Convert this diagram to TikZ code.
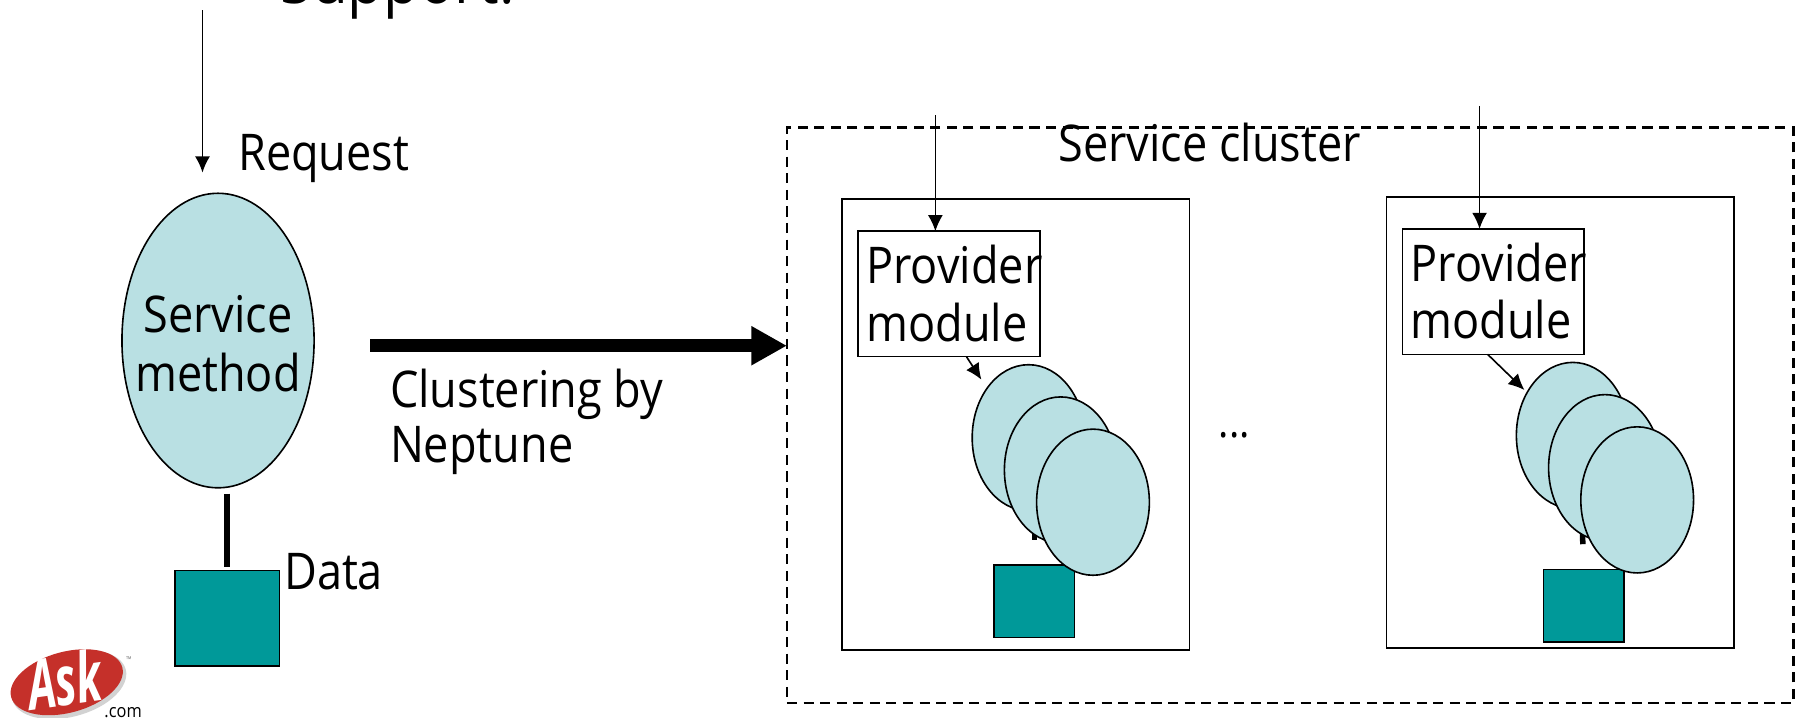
\documentclass[tikz,border=0pt]{standalone}
\usepackage{fontspec}
\setmainfont[FakeStretch=0.89]{Open Sans}
\usepackage{tikz}
\usetikzlibrary{arrows.meta,shapes.geometric}
\definecolor{methodblue}{HTML}{B9E0E3}
\definecolor{datateal}{HTML}{009999}
\definecolor{askred}{HTML}{C5302A}
\tikzset{
    label text/.style={inner sep=0pt, outer sep=0pt, font=\fontsize{22}{25}\selectfont, align=left},
    method/.style={draw, ellipse, fill=methodblue, line width=0.7pt, inner sep=0pt, outer sep=0pt, minimum width=49pt, minimum height=63.5pt},
    databox/.style={draw, fill=datateal, line width=0.7pt, inner sep=0pt, outer sep=0pt, minimum width=35pt, minimum height=31.5pt},
    serverbox/.style={draw, fill=white, line width=0.7pt, inner sep=0pt, outer sep=0pt, minimum width=151pt, minimum height=196pt},
    providerbox/.style={draw, line width=0.7pt, inner sep=0pt, outer sep=0pt, minimum width=79pt, minimum height=54.5pt},
    request/.style={-{Latex[length=7pt,width=6.5pt]}, line width=0.7pt},
    dataline/.style={line width=2.4pt},
}
\begin{document}
\begin{tikzpicture}[x=0.5pt,y=-0.5pt]
            \useasboundingbox (0,0) rectangle (1568,624);
            \node[inner sep=0pt, anchor=base west, font=\fontsize{28.5}{28.5}\selectfont] (title) at (243,3) {Support.};

            \coordinate (reqstart) at (176,9);
            \coordinate (reqend) at (176,150);
            \draw[request] (reqstart) -- (reqend);
            \node[label text, anchor=base west] (reqlabel) at (207,148) {Request};

            \node[method, minimum width=83.5pt, minimum height=128pt] (method) at (189.5,296) {};
            \node[label text, align=center, font=\fontsize{22}{25.5}\selectfont] (methodlabel) at (189.5,299) {Service\\method};
            \node[databox, minimum width=45.5pt, minimum height=41.5pt] (data) at (197.5,537.5) {};
            \draw[dataline, shorten <=2.5pt, shorten >=1.5pt] (method.south -| data.north) -- (data.north);
            \node[label text, anchor=base west] (datalabel) at (247,512) {Data};

            \node[draw, line width=1.1pt, dash pattern=on 4.4pt off 2.8pt, inner sep=0pt, outer sep=0pt, minimum width=437.5pt, minimum height=250pt] (cluster) at (1121.5,361) {};
            \node[label text, anchor=base west] (clusterlabel) at (920,140) {Service cluster};
            \coordinate (arrowstart) at (322,300.5);
            \coordinate (arrowend) at (684,300.5);
            \draw[-{Triangle[length=15.5pt,width=16pt]}, line width=5.5pt] (arrowstart) -- (arrowend);
            \node[label text, anchor=north west, font=\fontsize{22}{24}\selectfont] (clusteringlabel) at (339,321) {Clustering by\\Neptune};

            \node[serverbox] (serverA) at (883,369) {};
            \node[serverbox] (serverB) at (1356,367) {};
            \node[providerbox] (providerA) at (825,255.5) {};
            \node[providerbox] (providerB) at (1298,253.5) {};
            \node[label text, anchor=north west] (providerlabelA) at (753,213) {Provider\\module};
            \node[label text, anchor=north west] (providerlabelB) at (1226,211) {Provider\\module};

            \coordinate (topA) at (813,100);
            \coordinate (topB) at (1286,92);
            \draw[request] (topA) -- (topA |- providerA.north);
            \draw[request] (topB) -- (topB |- providerB.north);

            \coordinate (startA) at (840,310);
            \coordinate (endA) at (853,330);
            \coordinate (startB) at (1293,308);
            \coordinate (endB) at (1325,339);
            \draw[request] (startA) -- (endA);
            \draw[request] (startB) -- (endB);

            \node[databox] (dataA) at (899,522.5) {};
            \node[databox] (dataB) at (1376.5,526.5) {};
            \coordinate (stubA) at (899,450);
            \coordinate (stubB) at (1375,450);
            \draw[dataline, shorten >=11pt] (stubA) -- (dataA.north);
            \draw[dataline, shorten >=11pt] (stubB) -- (dataB.north);

            \foreach \name/\x/\y in {a/894/380.5, b/922/408.5, c/950/436.5, d/1367/378.5, e/1395/406.5, f/1423/434.5}
                \node[method] (method\name) at (\x,\y) {};

            \node[inner sep=0pt, font=\fontsize{19}{19}\selectfont] (dots) at (1073,378) {...};

            \fill[gray!35, rotate around={15:(60,595)}] (60,595) ellipse (25.5pt and 14pt);
            \node[ellipse, fill=askred, rotate=15, inner sep=0pt, minimum width=50pt, minimum height=26.5pt] (askmark) at (58,593) {};
            \node[inner sep=0pt, text=white, rotate=8, xscale=0.72, transform shape, font=\fontsize{30}{30}\selectfont\bfseries\itshape] (asklabel) at (56,591) {Ask};
            \node[inner sep=0pt, font=\fontsize{8}{8}\selectfont] (comlabel) at (107,619) {.com};
            \node[inner sep=0pt, text=gray, font=\fontsize{3.5}{3.5}\selectfont] (tmlabel) at (112,573) {™};
        \end{tikzpicture}
\end{document}
